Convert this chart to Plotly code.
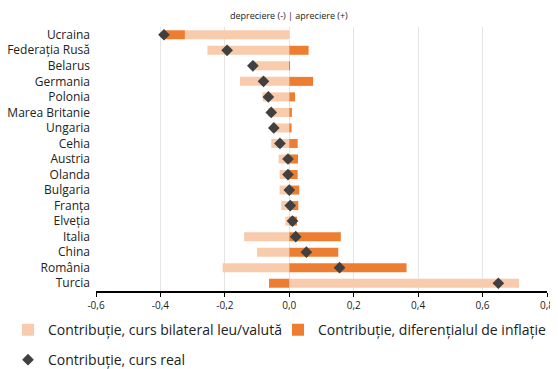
import plotly.graph_objects as go

countries = ["Ucraina", "Federația Rusă", "Belarus", "Germania", "Polonia", "Marea Britanie",
             "Ungaria", "Cehia", "Austria", "Olanda", "Bulgaria", "Franța", "Elveția",
             "Italia", "China", "România", "Turcia"]
bilateral = [-0.324, -0.254, -0.112, -0.153, -0.083, -0.065, -0.055, -0.056, -0.033,
             -0.030, -0.030, -0.025, -0.012, -0.140, -0.100, -0.207, 0.713]
inflation = [-0.065, 0.060, 0.002, 0.074, 0.018, 0.008, 0.007, 0.026, 0.027,
             0.026, 0.031, 0.028, 0.024, 0.160, 0.152, 0.364, -0.063]
real = [-0.389, -0.193, -0.113, -0.080, -0.065, -0.056, -0.048, -0.029, -0.004,
        -0.004, 0.000, 0.003, 0.010, 0.020, 0.053, 0.156, 0.649]

x_ticks = [-0.6, -0.4, -0.2, 0.0, 0.2, 0.4, 0.6, 0.8]
x_tick_labels = ["-0,6", "-0,4", "-0,2", "0,0", "0,2", "0,4", "0,6", "0,8"]

names = ["Contribuție, curs bilateral leu/valută",
         "Contribuție, diferențialul de inflație",
         "Contribuție, curs real"]

FONT = "Open Sans"
TXT = "#222222"
xmin, xmax = -0.6, 0.8
W, H = 550, 361  # page has an 8px body margin

fig = go.Figure()
fig.add_trace(go.Bar(y=countries, x=bilateral, orientation="h", name=names[0],
                     marker=dict(color="#F8CBAD", line=dict(width=0)),
                     legend="legend", showlegend=True))
fig.add_trace(go.Bar(y=countries, x=inflation, orientation="h", name=names[1],
                     marker=dict(color="#ED7D31", line=dict(width=0)),
                     legend="legend2", showlegend=True))
fig.add_trace(go.Scatter(y=countries, x=real, mode="markers", name=names[2],
                         marker=dict(symbol="diamond", size=9, color="#404040"),
                         legend="legend3", showlegend=True))

n = len(countries)
boundaries = [i - 0.5 for i in range(n + 1)]

leg_common = dict(orientation="v", xref="container", yref="container",
                  xanchor="left", yanchor="top", bgcolor="rgba(0,0,0,0)",
                  font=dict(size=14, family=FONT, color=TXT))

fig.update_layout(
    width=W, height=H, showlegend=True,
    margin=dict(l=88, r=11, t=19, b=78, autoexpand=False),
    paper_bgcolor="white", plot_bgcolor="white",
    barmode="relative", bargap=0.42,
    font=dict(family=FONT, color=TXT),
    xaxis=dict(range=[xmin, xmax], tickvals=x_ticks, ticktext=x_tick_labels,
               showgrid=True, gridcolor="#E4E4E4", gridwidth=1,
               zeroline=False, showline=True, linecolor="black", linewidth=2,
               ticks="outside", ticklen=4, tickcolor="black", tickwidth=1,
               tickfont=dict(size=10, family=FONT, color=TXT)),
    yaxis=dict(type="category", categoryorder="array", categoryarray=countries,
               range=[n - 0.5, -0.5], showgrid=False, zeroline=False, showline=False,
               ticks="", tickfont=dict(size=12, family=FONT, color=TXT),
               ticklabelstandoff=5),
    yaxis2=dict(overlaying="y", anchor="free", position=(0 - xmin) / (xmax - xmin),
                type="linear", range=[n - 0.5, -0.5], tickvals=boundaries,
                showticklabels=False, ticks="outside", ticklen=4, tickcolor="black",
                showgrid=False, zeroline=False, showline=True, linecolor="black",
                linewidth=2),
    legend=dict(leg_common, x=0.0, y=0.152),
    legend2=dict(leg_common, x=270 / W, y=0.152),
    legend3=dict(leg_common, x=0.0, y=0.069),
    annotations=[dict(text="depreciere (-) | apreciere (+)", x=0, xref="x",
                      y=1, yref="paper", yanchor="bottom", yshift=3, showarrow=False,
                      font=dict(size=9, family=FONT, color=TXT))],
)

fig.write_html("out.html")
